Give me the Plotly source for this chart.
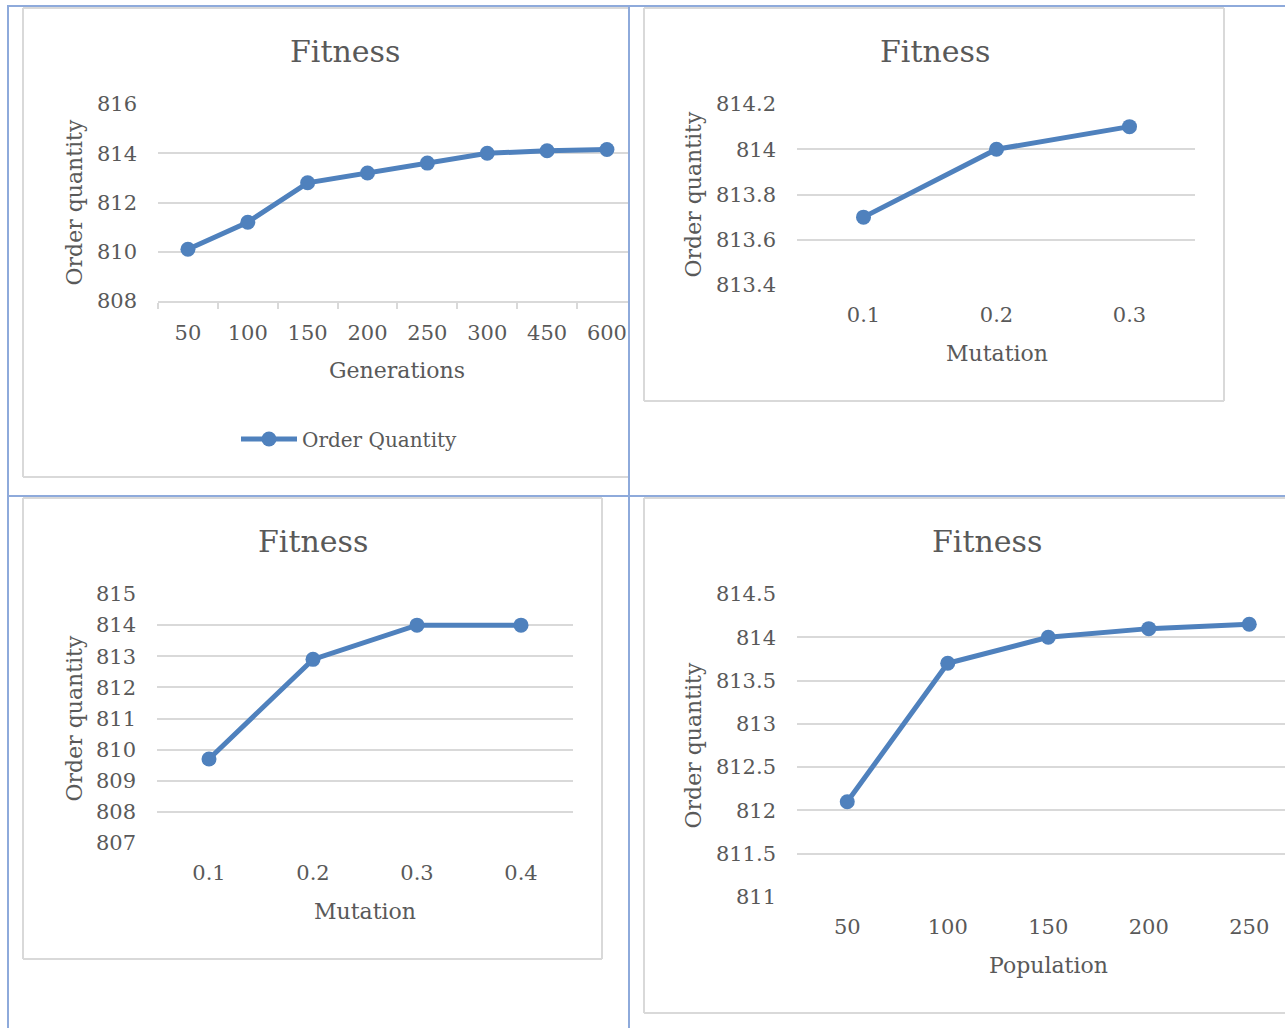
import plotly.graph_objects as go

W, H = 1285, 1028

# ---- data -------------------------------------------------------------
gen_labels = ["50", "100", "150", "200", "250", "300", "450", "600"]
gen_values = [810.1, 811.2, 812.8, 813.2, 813.6, 814.0, 814.1, 814.15]
gen_ticks = [808, 810, 812, 814, 816]

mut3_labels = ["0.1", "0.2", "0.3"]
mut3_values = [813.7, 814.0, 814.1]
mut3_ticks = [813.4, 813.6, 813.8, 814.0, 814.2]

mut4_labels = ["0.1", "0.2", "0.3", "0.4"]
mut4_values = [809.7, 812.9, 814.0, 814.0]
mut4_ticks = [807, 808, 809, 810, 811, 812, 813, 814, 815]

pop_labels = ["50", "100", "150", "200", "250"]
pop_values = [812.1, 813.7, 814.0, 814.1, 814.15]
pop_ticks = [811, 811.5, 812, 812.5, 813, 813.5, 814, 814.5]

# ---- styling ----------------------------------------------------------
FONT = "DejaVu Serif"
TEXT = "#595959"
GRID = "#d9d9d9"
LINE = "#4f81bd"
TABLE = "#8eaadb"


def fx(x):
    return x / W


def fy(y):
    return 1 - y / H


fig = go.Figure()

# panel definitions: (x-left, x-right, y-top, y-bottom) in pixels
panels = [
    dict(labels=gen_labels, values=gen_values, ticks=gen_ticks,
         box=(158, 629, 104, 301), spacing=59.86, xtitle="Generations",
         title_xy=(345, 51), ytitle_x=74, xtitle_y=370, axisline=True,
         legend=True),
    dict(labels=mut3_labels, values=mut3_values, ticks=mut3_ticks,
         box=(797, 1195, 104, 285), spacing=133.0, xtitle="Mutation",
         title_xy=(935, 51), ytitle_x=693, xtitle_y=353, axisline=False,
         legend=False),
    dict(labels=mut4_labels, values=mut4_values, ticks=mut4_ticks,
         box=(157, 573, 594, 843), spacing=104.0, xtitle="Mutation",
         title_xy=(313, 541), ytitle_x=74, xtitle_y=911, axisline=False,
         legend=False),
    dict(labels=pop_labels, values=pop_values, ticks=pop_ticks,
         box=(797, 1285, 594, 897), spacing=100.5, xtitle="Population",
         title_xy=(987, 541), ytitle_x=693, xtitle_y=965, axisline=False,
         legend=False),
]

annotations = []
for i, p in enumerate(panels, start=1):
    xa = "x" if i == 1 else f"x{i}"
    ya = "y" if i == 1 else f"y{i}"
    x0, x1, y0, y1 = p["box"]
    n_span = (x1 - x0) / p["spacing"]

    fig.add_trace(go.Scatter(
        x=p["labels"], y=p["values"], xaxis=xa, yaxis=ya,
        mode="lines+markers", name="Order Quantity",
        line=dict(color=LINE, width=5),
        marker=dict(color=LINE, size=15),
        showlegend=p["legend"], cliponaxis=False,
    ))

    xkey = "xaxis" if i == 1 else f"xaxis{i}"
    ykey = "yaxis" if i == 1 else f"yaxis{i}"
    xaxis = dict(
        domain=[fx(x0), fx(x1)], anchor=ya, type="category",
        range=[-0.5, -0.5 + n_span], showgrid=False, zeroline=False,
        automargin=False,
        tickfont=dict(family=FONT, size=21, color=TEXT),
        fixedrange=True,
    )
    if p["axisline"]:
        xaxis.update(showline=True, linecolor=GRID, linewidth=1.5,
                     ticks="outside", tickson="boundaries", ticklen=6,
                     tickcolor=GRID, tickwidth=1.5, ticklabelstandoff=12)
    else:
        xaxis.update(showline=False, ticks="", ticklabelstandoff=15)
    fig.layout[xkey] = xaxis

    fig.layout[ykey] = dict(
        domain=[fy(y1), fy(y0)], anchor=xa,
        range=[p["ticks"][0], p["ticks"][-1]],
        tickvals=p["ticks"], showgrid=True, gridcolor=GRID, gridwidth=1.5,
        zeroline=False, showline=False, ticks="", automargin=False,
        tickfont=dict(family=FONT, size=21, color=TEXT),
        ticklabelstandoff=20, fixedrange=True,
    )

    # chart title
    annotations.append(dict(
        text="Fitness", x=fx(p["title_xy"][0]), y=fy(p["title_xy"][1]),
        xref="paper", yref="paper", xanchor="center", yanchor="middle",
        showarrow=False, font=dict(family=FONT, size=30, color=TEXT)))
    # x axis title
    annotations.append(dict(
        text=p["xtitle"], x=fx((x0 + x0 + p["spacing"] * len(p["labels"])) / 2),
        y=fy(p["xtitle_y"]), xref="paper", yref="paper",
        xanchor="center", yanchor="middle", showarrow=False,
        font=dict(family=FONT, size=22, color=TEXT)))
    # y axis title
    annotations.append(dict(
        text="Order quantity", x=fx(p["ytitle_x"]), y=fy((y0 + y1) / 2),
        xref="paper", yref="paper", xanchor="center", yanchor="middle",
        textangle=-90, showarrow=False,
        font=dict(family=FONT, size=22, color=TEXT)))

shapes = []


def seg(xa, ya, xb, yb, color, width):
    shapes.append(dict(type="line", xref="paper", yref="paper",
                       x0=fx(xa), y0=fy(ya), x1=fx(xb), y1=fy(yb),
                       line=dict(color=color, width=width), layer="above"))


# chart frames (light grey)
seg(23, 8, 23, 477, GRID, 2)
seg(23, 8, 629, 8, GRID, 2)
seg(23, 477, 629, 477, GRID, 2)

seg(644, 8, 644, 401, GRID, 2)
seg(644, 8, 1224, 8, GRID, 2)
seg(1224, 8, 1224, 401, GRID, 2)
seg(644, 401, 1224, 401, GRID, 2)

seg(23, 498, 23, 959, GRID, 2)
seg(23, 498, 602, 498, GRID, 2)
seg(602, 498, 602, 959, GRID, 2)
seg(23, 959, 602, 959, GRID, 2)

seg(644, 498, 644, 1013, GRID, 2)
seg(644, 498, 1285, 498, GRID, 2)
seg(644, 1013, 1285, 1013, GRID, 2)

# table rules (blue)
seg(7, 6, 1285, 6, TABLE, 2)
seg(7, 496, 1285, 496, TABLE, 2)
seg(8, 5, 8, 1028, TABLE, 2)
seg(629, 5, 629, 1028, TABLE, 2)

fig.update_layout(
    template="none",
    width=W, height=H, margin=dict(l=0, r=0, t=0, b=0, pad=0,
                                   autoexpand=False),
    paper_bgcolor="white", plot_bgcolor="white",
    annotations=annotations, shapes=shapes,
    showlegend=True,
    legend=dict(x=fx(236), y=fy(439), xanchor="left", yanchor="middle",
                orientation="h", bgcolor="rgba(0,0,0,0)",
                font=dict(family=FONT, size=20, color=TEXT),
                itemwidth=56),
)

fig.write_html("out.html")
